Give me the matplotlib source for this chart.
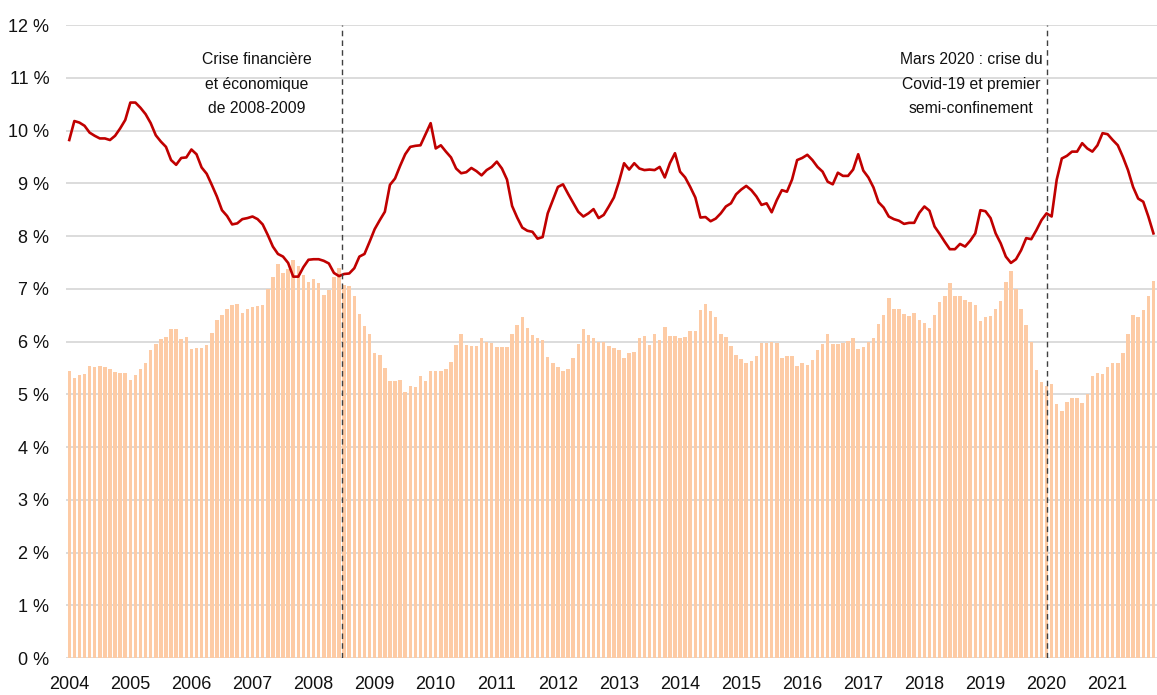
import matplotlib
matplotlib.use("Agg")
import matplotlib.pyplot as plt
from matplotlib import font_manager
import numpy as np

# ---- data (monthly, Jan 2004 - Oct 2021) ----
bar_values = [
    5.45, 5.31, 5.36, 5.38, 5.54, 5.52, 5.54, 5.51, 5.48, 5.43,
    5.40, 5.40, 5.27, 5.36, 5.47, 5.60, 5.83, 5.95, 6.04, 6.08,
    6.23, 6.24, 6.04, 6.08, 5.86, 5.87, 5.88, 5.93, 6.17, 6.41,
    6.50, 6.62, 6.69, 6.72, 6.55, 6.61, 6.65, 6.68, 6.69, 6.99,
    7.23, 7.47, 7.30, 7.37, 7.55, 7.44, 7.27, 7.13, 7.18, 7.10,
    6.89, 6.98, 7.23, 7.40, 7.07, 7.05, 6.86, 6.53, 6.30, 6.14,
    5.78, 5.74, 5.49, 5.25, 5.26, 5.27, 5.04, 5.16, 5.14, 5.35,
    5.26, 5.45, 5.45, 5.45, 5.48, 5.61, 5.93, 6.14, 5.94, 5.91,
    5.91, 6.07, 6.00, 5.97, 5.90, 5.90, 5.90, 6.15, 6.31, 6.47,
    6.26, 6.12, 6.06, 6.03, 5.71, 5.60, 5.51, 5.44, 5.48, 5.69,
    5.95, 6.23, 6.12, 6.07, 5.99, 5.99, 5.92, 5.88, 5.83, 5.69,
    5.79, 5.80, 6.06, 6.10, 5.93, 6.14, 6.03, 6.28, 6.10, 6.10,
    6.07, 6.09, 6.20, 6.20, 6.60, 6.71, 6.58, 6.46, 6.15, 6.08,
    5.91, 5.74, 5.66, 5.59, 5.64, 5.73, 5.97, 5.97, 6.00, 5.97,
    5.68, 5.73, 5.73, 5.54, 5.59, 5.55, 5.65, 5.84, 5.95, 6.15,
    5.95, 5.95, 5.98, 6.01, 6.07, 5.86, 5.89, 6.00, 6.06, 6.34,
    6.50, 6.82, 6.61, 6.61, 6.52, 6.48, 6.55, 6.41, 6.36, 6.26,
    6.50, 6.74, 6.86, 7.10, 6.86, 6.86, 6.79, 6.75, 6.70, 6.39,
    6.47, 6.48, 6.62, 6.77, 7.12, 7.34, 6.99, 6.62, 6.31, 6.00,
    5.46, 5.23, 5.16, 5.19, 4.82, 4.69, 4.85, 4.92, 4.92, 4.83,
    5.01, 5.34, 5.41, 5.38, 5.51, 5.60, 5.60, 5.78, 6.14, 6.50,
    6.47, 6.60, 6.87, 7.14,
]

line_values = [
    9.82, 10.18, 10.15, 10.09, 9.96, 9.90, 9.85, 9.85, 9.82, 9.90,
    10.04, 10.20, 10.53, 10.53, 10.43, 10.31, 10.14, 9.91, 9.79, 9.69,
    9.44, 9.35, 9.48, 9.49, 9.64, 9.55, 9.30, 9.18, 8.97, 8.75,
    8.49, 8.38, 8.22, 8.24, 8.32, 8.34, 8.37, 8.32, 8.22, 8.02,
    7.80, 7.66, 7.61, 7.49, 7.23, 7.23, 7.41, 7.55, 7.56, 7.56,
    7.53, 7.48, 7.30, 7.24, 7.28, 7.29, 7.39, 7.61, 7.66, 7.89,
    8.13, 8.30, 8.46, 8.97, 9.09, 9.33, 9.55, 9.69, 9.71, 9.72,
    9.93, 10.14, 9.66, 9.72, 9.60, 9.49, 9.28, 9.19, 9.21, 9.29,
    9.23, 9.15, 9.25, 9.31, 9.41, 9.28, 9.07, 8.57, 8.35, 8.16,
    8.10, 8.08, 7.95, 7.98, 8.43, 8.68, 8.93, 8.98, 8.80, 8.63,
    8.46, 8.37, 8.43, 8.51, 8.34, 8.40, 8.56, 8.73, 9.03, 9.38,
    9.26, 9.38, 9.28, 9.25, 9.26, 9.25, 9.31, 9.11, 9.38, 9.57,
    9.22, 9.11, 8.93, 8.73, 8.35, 8.36, 8.28, 8.33, 8.43, 8.56,
    8.62, 8.79, 8.88, 8.95, 8.87, 8.75, 8.59, 8.62, 8.45, 8.68,
    8.87, 8.84, 9.07, 9.44, 9.48, 9.54, 9.44, 9.31, 9.22, 9.03,
    8.98, 9.20, 9.14, 9.14, 9.26, 9.55, 9.24, 9.11, 8.92, 8.64,
    8.54, 8.37, 8.32, 8.29, 8.23, 8.25, 8.25, 8.44, 8.56, 8.48,
    8.18, 8.04, 7.89, 7.75, 7.75, 7.85, 7.80, 7.91, 8.05, 8.49,
    8.47, 8.34, 8.05, 7.86, 7.61, 7.49, 7.56, 7.73, 7.96, 7.94,
    8.11, 8.30, 8.43, 8.37, 9.07, 9.47, 9.52, 9.60, 9.60, 9.76,
    9.66, 9.60, 9.72, 9.95, 9.93, 9.82, 9.72, 9.50, 9.25, 8.93,
    8.71, 8.65, 8.37, 8.05,
]

years = [str(y) for y in range(2004, 2022)]
y_ticks = list(range(0, 13))
y_tick_labels = [f"{v} %" for v in y_ticks]

annotation_crisis = "Crise financière\net économique\nde 2008-2009"
annotation_covid = "Mars 2020 : crise du\nCovid-19 et premier\nsemi-confinement"

# ---- font ----
def pick_font(cands):
    for c in cands:
        try:
            font_manager.findfont(c, fallback_to_default=False)
            return c
        except Exception:
            pass
    return "DejaVu Sans"

fam = pick_font(["Liberation Sans Narrow", "Arial Narrow", "Liberation Sans", "Arial"])
narrow = "Narrow" in fam
plt.rcParams["font.family"] = [fam, "DejaVu Sans"]
fs = 15.5 if narrow else 13
fs_ann = 13.5 if narrow else 11.3

# ---- figure ----
fig = plt.figure(figsize=(11.57, 6.95), dpi=100)
ax = fig.add_axes([0.057, 0.0532, 0.943, 0.9108])

x = np.arange(len(bar_values))
ax.bar(x, bar_values, width=0.69, color="#FDCBA5", zorder=2)
ax.plot(np.arange(len(line_values)), line_values, color="#C00000", lw=1.9, zorder=4,
        solid_joinstyle="round")

ax.axvline(53.6, color="#404040", ls=(0, (4, 3)), lw=1.0, zorder=5)
ax.axvline(192.1, color="#404040", ls=(0, (4, 3)), lw=1.0, zorder=5)

ax.text(36.8, 10.88, annotation_crisis, ha="center", va="center",
        fontsize=fs_ann, linespacing=1.8, color="#111111", zorder=6)
ax.text(177.2, 10.88, annotation_covid, ha="center", va="center",
        fontsize=fs_ann, linespacing=1.8, color="#111111", zorder=6)

ax.set_xlim(-0.65, len(bar_values) - 0.3)
ax.set_ylim(0, 12)
ax.set_yticks(y_ticks)
ax.set_yticklabels(y_tick_labels)
ax.set_xticks(np.arange(0, 12 * len(years), 12))
ax.set_xticklabels(years)
ax.tick_params(axis="both", length=0, labelsize=fs, colors="#111111")
ax.tick_params(axis="x", pad=13)
ax.tick_params(axis="y", pad=12)
ax.yaxis.grid(True, color="#D9D9D9", lw=1.3, zorder=0)
ax.set_axisbelow(True)
for s in ax.spines.values():
    s.set_visible(False)

fig.savefig("out.png", dpi=100)
